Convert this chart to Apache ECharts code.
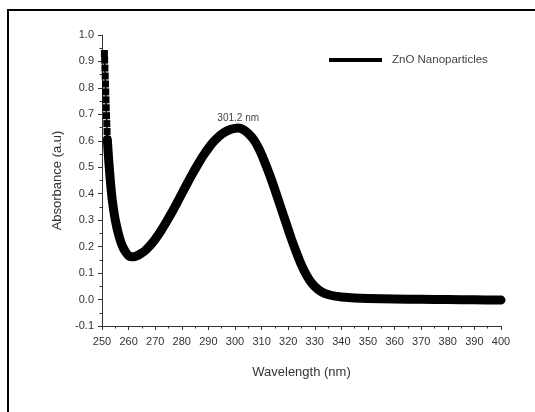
<!DOCTYPE html>
<html>
<head>
<meta charset="utf-8">
<script src="https://cdn.jsdelivr.net/npm/echarts@6/dist/echarts.min.js"></script>
<style>
  html, body { margin: 0; padding: 0; background: #fff; }
  #chart { width: 535px; height: 412px; }
</style>
</head>
<body>
<div id="chart"></div>
<script>
// UV-Vis absorbance spectrum of ZnO nanoparticles

// steep onset near 250 nm, recorded as separate square points
const onsetWavelength = [250.9, 251.0, 251.1, 251.2, 251.3, 251.4, 251.5, 251.6, 251.7, 251.8, 251.9, 252.0];
const onsetAbsorbance = [0.93, 0.905, 0.875, 0.845, 0.815, 0.785, 0.755, 0.725, 0.695, 0.665, 0.635, 0.605];

// main band, 252 - 400 nm
const wavelength = [252, 252.5, 253, 253.5, 254, 255, 256, 257, 258, 259, 260, 261, 262, 263, 264, 266, 268, 270,
  272, 274, 276, 278, 280, 282, 284, 286, 288, 290, 292, 294, 296, 298, 300, 301.2, 303, 305, 307, 309, 311,
  313, 315, 317, 319, 321, 323, 325, 327, 329, 331, 333, 335, 337, 340, 345, 350, 360, 370, 380, 390, 400];
const absorbance = [0.605, 0.53, 0.465, 0.41, 0.365, 0.30, 0.255, 0.22, 0.195, 0.178, 0.166, 0.162, 0.162, 0.165, 0.17,
  0.183, 0.203, 0.228, 0.257, 0.29, 0.325, 0.362, 0.4, 0.438, 0.475, 0.51, 0.543, 0.572, 0.597, 0.617, 0.632,
  0.642, 0.647, 0.648, 0.643, 0.628, 0.605, 0.57, 0.524, 0.472, 0.415, 0.355, 0.295, 0.235, 0.18, 0.13, 0.09,
  0.06, 0.04, 0.027, 0.019, 0.014, 0.01, 0.006, 0.004, 0.002, 0.001, 0.0, -0.001, -0.002];

const peakWavelength = 301.2;
const seriesName = 'ZnO Nanoparticles';

const xTicks = { min: 250, max: 400, step: 10 };
const yTicks = { min: -0.1, max: 1.0, step: 0.1 };

const mainData = wavelength.map((w, i) => [w, absorbance[i]]);
const onsetData = onsetWavelength.map((w, i) => [w, onsetAbsorbance[i]]);
const peakAbsorbance = absorbance[wavelength.indexOf(peakWavelength)];

const textColor = '#333';
const font = 'Liberation Sans';

const chart = echarts.init(document.getElementById('chart'), null, { renderer: 'canvas' });
chart.setOption({
  animation: false,
  backgroundColor: '#fff',
  grid: { left: 102, right: 34, top: 35, bottom: 86, containLabel: false },
  legend: {
    data: [{ name: seriesName, icon: 'rect' }],
    left: 324,
    top: 49,
    itemWidth: 53,
    itemHeight: 4,
    textStyle: { fontFamily: font, fontSize: 11.5, color: '#444', padding: [0, 0, 0, 5] }
  },
  xAxis: {
    type: 'value',
    min: xTicks.min,
    max: xTicks.max,
    interval: xTicks.step,
    name: 'Wavelength (nm)',
    nameLocation: 'middle',
    nameGap: 40,
    nameTextStyle: { fontFamily: font, fontSize: 13, color: textColor },
    axisLine: { show: true, onZero: false, lineStyle: { color: '#333', width: 1 } },
    axisTick: { show: true, inside: false, length: 4, lineStyle: { color: '#333' } },
    minorTick: { show: true, splitNumber: 2, length: 2.5, lineStyle: { color: '#333' } },
    axisLabel: { fontFamily: font, fontSize: 11, color: textColor, margin: 10 },
    splitLine: { show: false }
  },
  yAxis: {
    type: 'value',
    min: yTicks.min,
    max: yTicks.max,
    interval: yTicks.step,
    name: 'Absorbance (a.u)',
    nameLocation: 'middle',
    nameGap: 38,
    nameRotate: 90,
    nameTextStyle: { fontFamily: font, fontSize: 13, color: textColor },
    axisLine: { show: true, onZero: false, lineStyle: { color: '#333', width: 1 } },
    axisTick: { show: true, inside: false, length: 4, lineStyle: { color: '#333' } },
    minorTick: { show: true, splitNumber: 2, length: 2.5, lineStyle: { color: '#333' } },
    axisLabel: {
      fontFamily: font, fontSize: 11, color: textColor, margin: 8,
      formatter: v => (Math.abs(v) < 1e-9 ? 0 : v).toFixed(1)
    },
    splitLine: { show: false }
  },
  series: [
    {
      name: seriesName,
      type: 'line',
      data: mainData,
      smooth: 0.3,
      showSymbol: false,
      itemStyle: { color: '#000' },
      lineStyle: { color: '#000', width: 9, cap: 'round', join: 'round' },
      markPoint: {
        silent: true,
        symbol: 'circle',
        symbolSize: 0,
        data: [{
          coord: [peakWavelength, peakAbsorbance],
          label: {
            show: true,
            position: 'top',
            distance: 5,
            formatter: peakWavelength.toFixed(1) + ' nm',
            fontFamily: font,
            fontSize: 10,
            color: '#444'
          }
        }]
      },
      z: 3
    },
    {
      name: seriesName,
      type: 'line',
      data: onsetData,
      symbol: 'rect',
      symbolSize: 7,
      showAllSymbol: true,
      itemStyle: { color: '#000' },
      lineStyle: { color: '#000', width: 1.5 },
      z: 3
    }
  ],
  graphic: [
    {
      type: 'polyline',
      shape: { points: [[8, 412], [8, 10], [535, 10]] },
      style: { stroke: '#000', lineWidth: 2, fill: null },
      silent: true
    }
  ]
});
</script>
</body>
</html>
